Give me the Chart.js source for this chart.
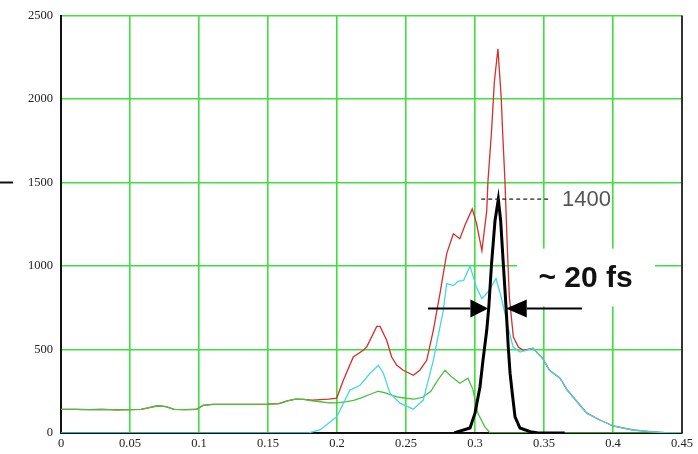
<!DOCTYPE html>
<html>
<head>
<meta charset="utf-8">
<script src="https://cdn.jsdelivr.net/npm/chart.js@4.4.1/dist/chart.umd.min.js"></script>
<style>
  html, body { margin: 0; padding: 0; background: #fff; }
  canvas { display: block; }
</style>
</head>
<body>
<canvas id="c" width="698" height="454"></canvas>
<script>
// ---- tick labels ----
const xTickValues = [0, 0.05, 0.1, 0.15, 0.2, 0.25, 0.3, 0.35, 0.4, 0.45];
const xTickLabels = ['0', '0.05', '0.1', '0.15', '0.2', '0.25', '0.3', '0.35', '0.4', '0.45'];
const yTickValues = [0, 500, 1000, 1500, 2000, 2500];
const yTickLabels = ['0', '500', '1000', '1500', '2000', '2500'];

// ---- red series ----
const redX = [0, 0.01, 0.02, 0.03, 0.04, 0.05, 0.058, 0.064, 0.07, 0.076, 0.082, 0.09, 0.098, 0.103, 0.11, 0.12, 0.13, 0.14, 0.15, 0.158, 0.164, 0.17, 0.176, 0.182, 0.188, 0.194,
  0.1998, 0.2046, 0.2118, 0.219, 0.2215, 0.2288, 0.2312, 0.236, 0.2396, 0.2433,
  0.248, 0.2553, 0.26, 0.265, 0.2698, 0.2746, 0.2795, 0.2843, 0.289, 0.293,
  0.298, 0.301, 0.305, 0.3085, 0.3094, 0.312, 0.314, 0.3166, 0.319, 0.32,
  0.3217, 0.3234, 0.3249, 0.3278, 0.3314, 0.335, 0.338, 0.342, 0.349, 0.354,
  0.3616, 0.367, 0.374, 0.381, 0.3906, 0.4, 0.4145, 0.427, 0.44, 0.45];
const redY = [142, 141, 140, 142, 139, 140, 141, 152, 163, 158, 142, 140, 141, 165, 171, 172, 171, 172, 173, 176, 192, 203, 201, 196, 200, 203,
  209, 316, 455, 495, 515, 638, 638, 555, 455, 405,
  376, 346, 376, 435, 615, 835, 1074, 1193, 1163, 1250,
  1342, 1258, 1092, 1330, 1509, 1808, 2100, 2300, 2007, 1808,
  1509, 1112, 813, 575, 515, 495, 500, 507, 447, 376,
  328, 256, 187, 119, 78, 42, 18, 8, 0, 0];

// ---- green series ----
const greenX = [0, 0.01, 0.02, 0.03, 0.04, 0.05, 0.058, 0.064, 0.07, 0.076, 0.082, 0.09, 0.098, 0.103, 0.11, 0.12, 0.13, 0.14, 0.15, 0.158, 0.164,
  0.17, 0.176, 0.182, 0.188, 0.194, 0.2, 0.206, 0.212, 0.218, 0.224, 0.23, 0.235, 0.24, 0.245, 0.25,
  0.256, 0.262, 0.268, 0.273, 0.2783, 0.283, 0.289, 0.2949, 0.2985, 0.302, 0.307, 0.311, 0.32, 0.45];
const greenY = [142, 141, 140, 142, 139, 140, 141, 152, 163, 158, 142, 140, 141, 165, 171, 172, 171, 172, 173, 176, 192,
  203, 201, 192, 187, 181, 180, 186, 195, 212, 232, 250, 240, 226, 214, 208,
  203, 214, 250, 316, 376, 336, 298, 328, 260, 119, 38, 0, 0, 0];

// ---- cyan series ----
const cyanX = [0, 0.18, 0.1877, 0.1998, 0.2094, 0.2167, 0.224, 0.23, 0.2336, 0.2384, 0.2457, 0.2553, 0.2625, 0.2698, 0.277,
  0.2795, 0.2843, 0.288, 0.2917, 0.2964, 0.301, 0.305, 0.31, 0.3152, 0.319, 0.324, 0.3276, 0.3326, 0.337, 0.342,
  0.349, 0.354, 0.3616, 0.367, 0.374, 0.381, 0.3906, 0.4, 0.4145, 0.427, 0.44, 0.45];
const cyanY = [0, 2, 18, 97, 257, 286, 358, 405, 358, 238, 179, 143, 197, 435, 734,
  895, 883, 910, 913, 1000, 873, 805, 850, 925, 813, 634, 515, 485, 495, 507,
  447, 376, 328, 256, 187, 119, 78, 42, 18, 8, 0, 0];

// ---- black (compressed pulse) series ----
const blackX = [0.285, 0.2877, 0.2964, 0.30, 0.3036, 0.3058, 0.3085, 0.31, 0.312, 0.3145, 0.3169,
  0.3186, 0.3205, 0.3225, 0.3241, 0.3254, 0.3273, 0.329, 0.3326, 0.34, 0.345, 0.365];
const blackY = [0, 8, 30, 119, 276, 436, 615, 754, 1014, 1271, 1400,
  1271, 1014, 754, 515, 358, 217, 97, 30, 8, 2, 0];

// ---- annotations ----
const peakValue = 1400;
const peakLabel = '1400';
const peakLineX = [0.3045, 0.353];
const peakLabelX = 0.363;
const widthLabel = '~ 20 fs';
const widthLabelPos = [0.3801, 928];
const widthBox = [0.3304, 0.4304, 758, 1104];
const arrowY = 746;
const leftArrow = [0.266, 0.2967, 0.3096];   // tail, head base, tip
const rightArrow = [0.3775, 0.3375, 0.3225]; // tail, head base, tip

const zip = (xs, ys) => xs.map((x, i) => ({ x, y: ys[i] }));

const annot = {
  id: 'annot',
  beforeDatasetsDraw(chart) {
    const { ctx, scales: { x, y } } = chart;
    ctx.save();
    ctx.fillStyle = '#ffffff';
    const x0 = x.getPixelForValue(widthBox[0]), x1 = x.getPixelForValue(widthBox[1]);
    const y0 = y.getPixelForValue(widthBox[3]), y1 = y.getPixelForValue(widthBox[2]);
    ctx.fillRect(x0, y0, x1 - x0, y1 - y0);
    ctx.restore();
  },
  afterDatasetsDraw(chart) {
    const { ctx, chartArea, scales: { x, y } } = chart;
    ctx.save();
    // right frame line
    ctx.strokeStyle = '#333';
    ctx.lineWidth = 2;
    ctx.beginPath();
    ctx.moveTo(chartArea.right, chartArea.top);
    ctx.lineTo(chartArea.right, chartArea.bottom);
    ctx.stroke();
    // small dash at far left
    ctx.strokeStyle = '#111';
    ctx.lineWidth = 2;
    const yd = y.getPixelForValue(1500);
    ctx.beginPath();
    ctx.moveTo(0, yd);
    ctx.lineTo(13, yd);
    ctx.stroke();
    // dashed peak line
    const py = y.getPixelForValue(peakValue);
    ctx.strokeStyle = '#222';
    ctx.lineWidth = 1.2;
    ctx.setLineDash([4, 3]);
    ctx.beginPath();
    ctx.moveTo(x.getPixelForValue(peakLineX[0]), py);
    ctx.lineTo(x.getPixelForValue(peakLineX[1]), py);
    ctx.stroke();
    ctx.setLineDash([]);
    // peak label
    ctx.fillStyle = '#555';
    ctx.font = '22px "Liberation Sans", Arial, sans-serif';
    ctx.textAlign = 'left';
    ctx.textBaseline = 'middle';
    ctx.fillText(peakLabel, x.getPixelForValue(peakLabelX), py + 1);
    // width label
    ctx.fillStyle = '#111';
    ctx.font = 'bold 30px "Liberation Sans", Arial, sans-serif';
    ctx.textAlign = 'center';
    ctx.fillText(widthLabel, x.getPixelForValue(widthLabelPos[0]), y.getPixelForValue(widthLabelPos[1]) + 1);
    // arrows
    const ay = y.getPixelForValue(arrowY);
    const drawArrow = (a) => {
      const tail = x.getPixelForValue(a[0]);
      const base = x.getPixelForValue(a[1]);
      const tip = x.getPixelForValue(a[2]);
      ctx.strokeStyle = '#000';
      ctx.lineWidth = 2;
      ctx.beginPath();
      ctx.moveTo(tail, ay);
      ctx.lineTo(base, ay);
      ctx.stroke();
      ctx.fillStyle = '#000';
      ctx.beginPath();
      ctx.moveTo(base, ay - 9);
      ctx.lineTo(tip, ay);
      ctx.lineTo(base, ay + 9);
      ctx.closePath();
      ctx.fill();
    };
    drawArrow(leftArrow);
    drawArrow(rightArrow);
    ctx.restore();
  }
};

new Chart(document.getElementById('c'), {
  type: 'line',
  data: {
    datasets: [
      { label: 'pulse', data: zip(blackX, blackY), borderColor: '#000', borderWidth: 3 },
      { label: 'cyan', data: zip(cyanX, cyanY), borderColor: 'rgb(70,215,225)', borderWidth: 1.3 },
      { label: 'green', data: zip(greenX, greenY), borderColor: 'rgb(70,195,60)', borderWidth: 1.3 },
      { label: 'red', data: zip(redX, redY), borderColor: 'rgb(215,45,45)', borderWidth: 1.3 }
    ]
  },
  options: {
    responsive: false,
    animation: false,
    devicePixelRatio: 1,
    layout: { padding: { left: 0, right: 16, top: 14, bottom: 0 } },
    elements: { point: { radius: 0 }, line: { tension: 0, fill: false } },
    plugins: { legend: { display: false }, tooltip: { enabled: false } },
    scales: {
      x: {
        type: 'linear',
        min: 0, max: 0.45,
        afterBuildTicks: (s) => { s.ticks = xTickValues.map(v => ({ value: v })); },
        afterFit: (s) => { s.height = 21; },
        ticks: {
          callback: (v, i) => xTickLabels[i],
          font: { family: '"Liberation Serif", "Times New Roman", serif', size: 12.5 },
          color: '#222',
          padding: 3,
          maxRotation: 0,
          autoSkip: false
        },
        grid: { color: 'rgb(60,225,60)', lineWidth: 1.6, drawTicks: false },
        border: { display: true, color: '#111', width: 2 }
      },
      y: {
        min: 0, max: 2500,
        afterBuildTicks: (s) => { s.ticks = yTickValues.map(v => ({ value: v })); },
        afterFit: (s) => { s.width = 61; },
        ticks: {
          callback: (v, i) => yTickLabels[i],
          font: { family: '"Liberation Serif", "Times New Roman", serif', size: 12.5 },
          color: '#222',
          padding: 8
        },
        grid: { color: 'rgb(60,225,60)', lineWidth: 1.6, drawTicks: false },
        border: { display: true, color: '#111', width: 2 }
      }
    }
  },
  plugins: [annot]
});
</script>
</body>
</html>
